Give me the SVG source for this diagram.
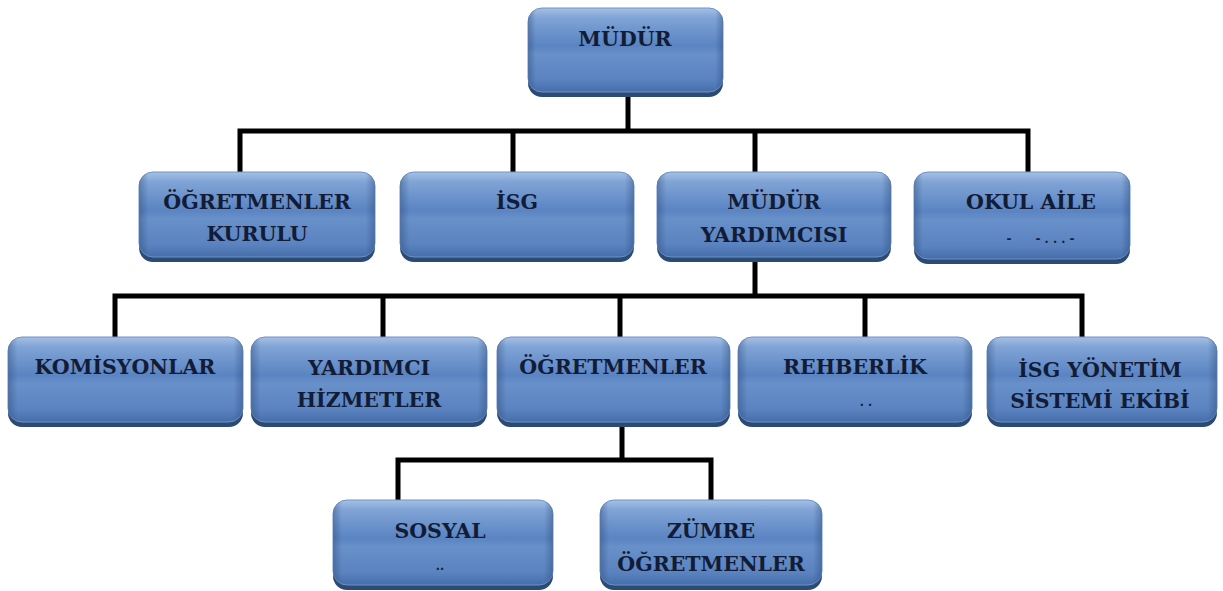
<svg xmlns="http://www.w3.org/2000/svg" width="1223" height="591" viewBox="0 0 1223 591">
<defs>
<linearGradient id="g" x1="0" y1="0" x2="0" y2="1">
<stop offset="0" stop-color="#a6c0e4"/>
<stop offset="0.12" stop-color="#7fa3d5"/>
<stop offset="0.45" stop-color="#5a84c2"/>
<stop offset="0.55" stop-color="#6890c9"/>
<stop offset="0.85" stop-color="#5a83c0"/>
<stop offset="1" stop-color="#456ea9"/>
</linearGradient>
<linearGradient id="h" x1="0" y1="0" x2="1" y2="0">
<stop offset="0" stop-color="#1f3a66" stop-opacity="0.35"/>
<stop offset="0.04" stop-color="#1f3a66" stop-opacity="0"/>
<stop offset="0.96" stop-color="#1f3a66" stop-opacity="0"/>
<stop offset="1" stop-color="#1f3a66" stop-opacity="0.35"/>
</linearGradient>
</defs>
<style>
.sh{fill:#2b4a74}
.bx{fill:url(#g);stroke:#6f93c6;stroke-width:1}
.ed{fill:url(#h)}
.t{font-family:"DejaVu Serif","Liberation Serif",serif;font-weight:bold;font-size:20.5px;fill:#121c36;text-anchor:middle}
.d{font-family:"DejaVu Serif","Liberation Serif",serif;font-weight:bold;font-size:12px;fill:#121c36;text-anchor:middle}
.c{fill:none;stroke:#000;stroke-width:5;stroke-linejoin:miter}
</style>
<rect width="1223" height="591" fill="#fff"/>
<g id="connectors">
<path class="c" d="M628 94V131M240 172V131H1028V172M513 131V172M755 131V172"/>
<path class="c" d="M755 258V296M115 338V296H1082V338M383 296V338M620 296V338M865 296V338"/>
<path class="c" d="M622 424V460M398 501V460H711V501"/>
</g>
<g id="n-mudur">
<rect class="sh" x="528" y="10" width="195" height="87" rx="14"/>
<rect class="bx" x="528" y="8" width="195" height="84" rx="14"/>
<rect class="ed" x="528" y="8" width="195" height="84" rx="14"/>
<text class="t" x="625" y="46">MÜDÜR</text>
</g>
<g id="n-ogretmenler-kurulu">
<rect class="sh" x="139" y="174" width="236" height="88" rx="14"/>
<rect class="bx" x="139" y="172" width="236" height="85" rx="14"/>
<rect class="ed" x="139" y="172" width="236" height="85" rx="14"/>
<text class="t" x="257" y="209">ÖĞRETMENLER</text>
<text class="t" x="257" y="241">KURULU</text>
</g>
<g id="n-isg">
<rect class="sh" x="400" y="174" width="234" height="88" rx="14"/>
<rect class="bx" x="400" y="172" width="234" height="85" rx="14"/>
<rect class="ed" x="400" y="172" width="234" height="85" rx="14"/>
<text class="t" x="517" y="209">İSG</text>
</g>
<g id="n-mudur-yardimcisi">
<rect class="sh" x="657" y="174" width="234" height="88" rx="14"/>
<rect class="bx" x="657" y="172" width="234" height="85" rx="14"/>
<rect class="ed" x="657" y="172" width="234" height="85" rx="14"/>
<text class="t" x="774" y="209">MÜDÜR</text>
<text class="t" x="774" y="242">YARDIMCISI</text>
</g>
<g id="n-okul-aile">
<rect class="sh" x="914" y="174" width="216" height="90" rx="14"/>
<rect class="bx" x="914" y="172" width="216" height="87" rx="14"/>
<rect class="ed" x="914" y="172" width="216" height="87" rx="14"/>
<text class="t" x="1031" y="209">OKUL AİLE</text>
<text class="d" x="1009" y="243">-</text>
<text class="d" x="1055" y="243">- . . . -</text>
</g>
<g id="n-komisyonlar">
<rect class="sh" x="8" y="339" width="235" height="88" rx="14"/>
<rect class="bx" x="8" y="337" width="235" height="85" rx="14"/>
<rect class="ed" x="8" y="337" width="235" height="85" rx="14"/>
<text class="t" x="125" y="374">KOMİSYONLAR</text>
</g>
<g id="n-yardimci-hizmetler">
<rect class="sh" x="251" y="339" width="236" height="88" rx="14"/>
<rect class="bx" x="251" y="337" width="236" height="85" rx="14"/>
<rect class="ed" x="251" y="337" width="236" height="85" rx="14"/>
<text class="t" x="369" y="375">YARDIMCI</text>
<text class="t" x="369" y="407">HİZMETLER</text>
</g>
<g id="n-ogretmenler">
<rect class="sh" x="497" y="339" width="233" height="88" rx="14"/>
<rect class="bx" x="497" y="337" width="233" height="85" rx="14"/>
<rect class="ed" x="497" y="337" width="233" height="85" rx="14"/>
<text class="t" x="613" y="374">ÖĞRETMENLER</text>
</g>
<g id="n-rehberlik">
<rect class="sh" x="738" y="339" width="234" height="88" rx="14"/>
<rect class="bx" x="738" y="337" width="234" height="85" rx="14"/>
<rect class="ed" x="738" y="337" width="234" height="85" rx="14"/>
<text class="t" x="855" y="374">REHBERLİK</text>
<text class="d" x="866" y="406">.  .</text>
</g>
<g id="n-isg-yonetim">
<rect class="sh" x="987" y="339" width="230" height="88" rx="14"/>
<rect class="bx" x="987" y="337" width="230" height="85" rx="14"/>
<rect class="ed" x="987" y="337" width="230" height="85" rx="14"/>
<text class="t" x="1100" y="377">İSG YÖNETİM</text>
<text class="t" x="1100" y="408">SİSTEMİ EKİBİ</text>
</g>
<g id="n-sosyal">
<rect class="sh" x="333" y="502" width="220" height="88" rx="14"/>
<rect class="bx" x="333" y="500" width="220" height="85" rx="14"/>
<rect class="ed" x="333" y="500" width="220" height="85" rx="14"/>
<text class="t" x="440" y="538">SOSYAL</text>
<text class="d" x="440" y="570">..</text>
</g>
<g id="n-zumre">
<rect class="sh" x="600" y="502" width="222" height="88" rx="14"/>
<rect class="bx" x="600" y="500" width="222" height="85" rx="14"/>
<rect class="ed" x="600" y="500" width="222" height="85" rx="14"/>
<text class="t" x="711" y="538">ZÜMRE</text>
<text class="t" x="711" y="571">ÖĞRETMENLER</text>
</g>
</svg>
